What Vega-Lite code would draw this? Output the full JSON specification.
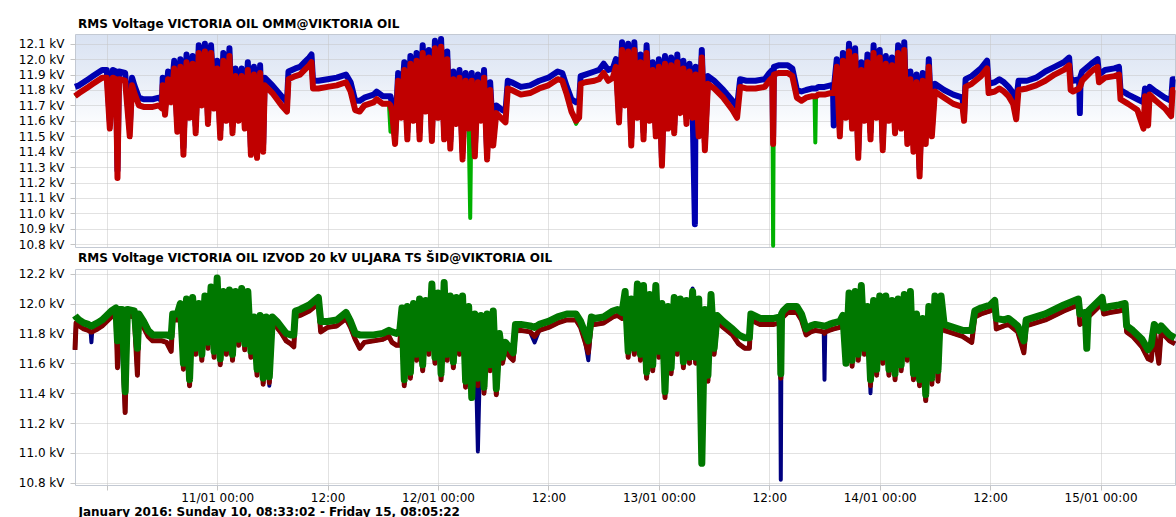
{
"$schema":"https://vega.github.io/schema/vega-lite/v6.json",
"padding":{"left":0,"right":0,"top":17,"bottom":0},
"background":"#ffffff",
"spacing":0,
"config":{
 "font":"DejaVu Sans",
 "view":{"stroke":"#c3c9d3","strokeWidth":1},
 "axis":{"labelFont":"DejaVu Sans","labelFontSize":12,"labelColor":"#000000","gridColor":"#c4c4c4","gridDash":[1,1],"gridWidth":1,"tickColor":"#c4c4c4","domain":false},
 "title":{"font":"DejaVu Sans","fontSize":12,"fontWeight":"bold","color":"#000000","anchor":"start","frame":"group","offset":3,"dx":3}
},
"datasets":{
"top":[
{"t":"2016-01-10T08:33:02","g":11.76,"b":11.82,"r":11.76},
{"t":"2016-01-10T09:00","g":11.78,"b":11.83,"r":11.78},
{"t":"2016-01-10T09:30","g":11.80,"b":11.85,"r":11.80},
{"t":"2016-01-10T10:00","g":11.82,"b":11.87,"r":11.82},
{"t":"2016-01-10T10:30","g":11.84,"b":11.89,"r":11.84},
{"t":"2016-01-10T11:00","g":11.86,"b":11.91,"r":11.86},
{"t":"2016-01-10T11:30","g":11.88,"b":11.93,"r":11.88},
{"t":"2016-01-10T12:00","g":11.88,"b":11.93,"r":11.88},
{"t":"2016-01-10T12:20","g":11.55,"b":11.60,"r":11.55},
{"t":"2016-01-10T12:40","g":11.88,"b":11.93,"r":11.88},
{"t":"2016-01-10T13:00","g":11.87,"b":11.92,"r":11.87},
{"t":"2016-01-10T13:10","g":11.23,"b":11.28,"r":11.23},
{"t":"2016-01-10T13:20","g":11.87,"b":11.92,"r":11.87},
{"t":"2016-01-10T14:00","g":11.86,"b":11.91,"r":11.86},
{"t":"2016-01-10T14:30","g":11.50,"b":11.55,"r":11.50},
{"t":"2016-01-10T14:45","g":11.83,"b":11.88,"r":11.83},
{"t":"2016-01-10T15:00","g":11.78,"b":11.83,"r":11.78},
{"t":"2016-01-10T15:30","g":11.70,"b":11.75,"r":11.70},
{"t":"2016-01-10T16:00","g":11.69,"b":11.74,"r":11.69},
{"t":"2016-01-10T17:00","g":11.69,"b":11.74,"r":11.69},
{"t":"2016-01-10T17:40","g":11.70,"b":11.75,"r":11.70},
{"t":"2016-01-10T18:00","g":11.68,"b":11.73,"r":11.68},
{"t":"2016-01-10T18:05","g":11.83,"b":11.88,"r":11.83},
{"t":"2016-01-10T18:20","g":11.64,"b":11.69,"r":11.64},
{"t":"2016-01-10T18:40","g":11.87,"b":11.92,"r":11.87},
{"t":"2016-01-10T19:00","g":11.72,"b":11.77,"r":11.72},
{"t":"2016-01-10T19:20","g":11.94,"b":11.99,"r":11.94},
{"t":"2016-01-10T19:40","g":11.53,"b":11.58,"r":11.53},
{"t":"2016-01-10T20:00","g":11.95,"b":12.00,"r":11.95},
{"t":"2016-01-10T20:20","g":11.38,"b":11.43,"r":11.38},
{"t":"2016-01-10T20:40","g":11.98,"b":12.03,"r":11.98},
{"t":"2016-01-10T21:00","g":11.62,"b":11.67,"r":11.62},
{"t":"2016-01-10T21:20","g":11.97,"b":12.02,"r":11.97},
{"t":"2016-01-10T21:40","g":11.52,"b":11.57,"r":11.52},
{"t":"2016-01-10T22:00","g":12.04,"b":12.09,"r":12.04},
{"t":"2016-01-10T22:20","g":11.70,"b":11.75,"r":11.70},
{"t":"2016-01-10T22:40","g":12.05,"b":12.10,"r":12.05},
{"t":"2016-01-10T23:00","g":11.58,"b":11.63,"r":11.58},
{"t":"2016-01-10T23:20","g":12.04,"b":12.09,"r":12.04},
{"t":"2016-01-10T23:40","g":11.68,"b":11.73,"r":11.68},
{"t":"2016-01-11T00:00","g":11.94,"b":11.99,"r":11.94},
{"t":"2016-01-11T00:20","g":11.49,"b":11.54,"r":11.49},
{"t":"2016-01-11T00:40","g":11.99,"b":12.04,"r":11.99},
{"t":"2016-01-11T01:00","g":11.60,"b":11.65,"r":11.60},
{"t":"2016-01-11T01:20","g":12.02,"b":12.07,"r":12.02},
{"t":"2016-01-11T01:40","g":11.52,"b":11.57,"r":11.52},
{"t":"2016-01-11T02:00","g":11.89,"b":11.94,"r":11.89},
{"t":"2016-01-11T02:20","g":11.60,"b":11.65,"r":11.60},
{"t":"2016-01-11T02:40","g":11.89,"b":11.94,"r":11.89},
{"t":"2016-01-11T03:00","g":11.55,"b":11.60,"r":11.55},
{"t":"2016-01-11T03:20","g":11.93,"b":11.98,"r":11.93},
{"t":"2016-01-11T03:40","g":11.38,"b":11.43,"r":11.38},
{"t":"2016-01-11T04:00","g":11.90,"b":11.95,"r":11.90},
{"t":"2016-01-11T04:20","g":11.36,"b":11.41,"r":11.36},
{"t":"2016-01-11T04:40","g":11.91,"b":11.96,"r":11.91},
{"t":"2016-01-11T05:00","g":11.40,"b":11.45,"r":11.40},
{"t":"2016-01-11T05:10","g":11.83,"b":11.88,"r":11.83},
{"t":"2016-01-11T06:00","g":11.78,"b":11.83,"r":11.78},
{"t":"2016-01-11T07:00","g":11.70,"b":11.76,"r":11.70},
{"t":"2016-01-11T07:35","g":11.66,"b":11.72,"r":11.66},
{"t":"2016-01-11T07:45","g":11.87,"b":11.92,"r":11.87},
{"t":"2016-01-11T08:30","g":11.89,"b":11.94,"r":11.89},
{"t":"2016-01-11T09:00","g":11.90,"b":11.95,"r":11.90},
{"t":"2016-01-11T09:30","g":11.93,"b":11.98,"r":11.93},
{"t":"2016-01-11T10:00","g":11.96,"b":12.01,"r":11.96},
{"t":"2016-01-11T10:15","g":11.98,"b":12.03,"r":11.98},
{"t":"2016-01-11T10:25","g":11.81,"b":11.86,"r":11.81},
{"t":"2016-01-11T11:00","g":11.81,"b":11.86,"r":11.81},
{"t":"2016-01-11T12:00","g":11.82,"b":11.87,"r":11.82},
{"t":"2016-01-11T13:00","g":11.83,"b":11.88,"r":11.83},
{"t":"2016-01-11T14:00","g":11.85,"b":11.90,"r":11.85},
{"t":"2016-01-11T14:30","g":11.79,"b":11.85,"r":11.79},
{"t":"2016-01-11T15:00","g":11.67,"b":11.73,"r":11.67},
{"t":"2016-01-11T15:30","g":11.66,"b":11.73,"r":11.66},
{"t":"2016-01-11T16:00","g":11.70,"b":11.75,"r":11.70},
{"t":"2016-01-11T17:00","g":11.72,"b":11.77,"r":11.72},
{"t":"2016-01-11T17:20","g":11.74,"b":11.79,"r":11.74},
{"t":"2016-01-11T18:00","g":11.71,"b":11.76,"r":11.71},
{"t":"2016-01-11T18:40","g":11.71,"b":11.76,"r":11.71},
{"t":"2016-01-11T18:50","g":11.53,"b":11.76,"r":11.70},
{"t":"2016-01-11T19:00","g":11.66,"b":11.71,"r":11.66},
{"t":"2016-01-11T19:20","g":11.45,"b":11.50,"r":11.45},
{"t":"2016-01-11T19:40","g":11.86,"b":11.91,"r":11.86},
{"t":"2016-01-11T20:00","g":11.62,"b":11.67,"r":11.62},
{"t":"2016-01-11T20:20","g":11.93,"b":11.98,"r":11.93},
{"t":"2016-01-11T20:40","g":11.48,"b":11.53,"r":11.48},
{"t":"2016-01-11T21:00","g":11.97,"b":12.02,"r":11.97},
{"t":"2016-01-11T21:20","g":11.60,"b":11.65,"r":11.60},
{"t":"2016-01-11T21:40","g":11.99,"b":12.04,"r":11.99},
{"t":"2016-01-11T22:00","g":11.48,"b":11.53,"r":11.48},
{"t":"2016-01-11T22:20","g":12.04,"b":12.09,"r":12.04},
{"t":"2016-01-11T22:40","g":11.66,"b":11.71,"r":11.66},
{"t":"2016-01-11T23:00","g":12.01,"b":12.06,"r":12.01},
{"t":"2016-01-11T23:20","g":11.47,"b":11.52,"r":11.47},
{"t":"2016-01-11T23:40","g":12.07,"b":12.12,"r":12.07},
{"t":"2016-01-12T00:00","g":11.62,"b":11.67,"r":11.62},
{"t":"2016-01-12T00:20","g":12.08,"b":12.13,"r":12.08},
{"t":"2016-01-12T00:40","g":11.48,"b":11.53,"r":11.48},
{"t":"2016-01-12T01:00","g":12.00,"b":12.05,"r":12.00},
{"t":"2016-01-12T01:20","g":11.42,"b":11.47,"r":11.42},
{"t":"2016-01-12T01:40","g":11.87,"b":11.92,"r":11.87},
{"t":"2016-01-12T02:00","g":11.58,"b":11.63,"r":11.58},
{"t":"2016-01-12T02:20","g":11.88,"b":11.93,"r":11.88},
{"t":"2016-01-12T02:40","g":11.35,"b":11.40,"r":11.35},
{"t":"2016-01-12T03:00","g":11.86,"b":11.91,"r":11.86},
{"t":"2016-01-12T03:20","g":11.55,"b":11.60,"r":11.55},
{"t":"2016-01-12T03:30","g":10.97,"b":11.75,"r":11.70},
{"t":"2016-01-12T03:40","g":11.86,"b":11.91,"r":11.86},
{"t":"2016-01-12T04:00","g":11.37,"b":11.42,"r":11.37},
{"t":"2016-01-12T04:20","g":11.85,"b":11.90,"r":11.85},
{"t":"2016-01-12T04:40","g":11.60,"b":11.65,"r":11.60},
{"t":"2016-01-12T05:00","g":11.88,"b":11.93,"r":11.88},
{"t":"2016-01-12T05:20","g":11.35,"b":11.40,"r":11.35},
{"t":"2016-01-12T05:40","g":11.80,"b":11.85,"r":11.80},
{"t":"2016-01-12T06:00","g":11.44,"b":11.49,"r":11.44},
{"t":"2016-01-12T06:20","g":11.65,"b":11.70,"r":11.65},
{"t":"2016-01-12T07:00","g":11.61,"b":11.67,"r":11.61},
{"t":"2016-01-12T07:20","g":11.59,"b":11.66,"r":11.59},
{"t":"2016-01-12T07:35","g":11.81,"b":11.86,"r":11.81},
{"t":"2016-01-12T08:00","g":11.80,"b":11.85,"r":11.80},
{"t":"2016-01-12T09:00","g":11.77,"b":11.82,"r":11.77},
{"t":"2016-01-12T10:00","g":11.78,"b":11.83,"r":11.78},
{"t":"2016-01-12T11:00","g":11.81,"b":11.86,"r":11.81},
{"t":"2016-01-12T12:00","g":11.83,"b":11.88,"r":11.83},
{"t":"2016-01-12T13:00","g":11.87,"b":11.92,"r":11.87},
{"t":"2016-01-12T13:30","g":11.86,"b":11.91,"r":11.86},
{"t":"2016-01-12T14:00","g":11.77,"b":11.82,"r":11.77},
{"t":"2016-01-12T14:30","g":11.66,"b":11.74,"r":11.66},
{"t":"2016-01-12T15:00","g":11.58,"b":11.72,"r":11.60},
{"t":"2016-01-12T15:20","g":11.62,"b":11.73,"r":11.62},
{"t":"2016-01-12T15:30","g":11.84,"b":11.89,"r":11.84},
{"t":"2016-01-12T16:00","g":11.85,"b":11.90,"r":11.85},
{"t":"2016-01-12T17:00","g":11.86,"b":11.92,"r":11.86},
{"t":"2016-01-12T17:30","g":11.87,"b":11.93,"r":11.87},
{"t":"2016-01-12T18:00","g":11.91,"b":11.97,"r":11.91},
{"t":"2016-01-12T18:30","g":11.86,"b":11.93,"r":11.86},
{"t":"2016-01-12T19:00","g":11.88,"b":11.94,"r":11.88},
{"t":"2016-01-12T19:20","g":11.95,"b":12.00,"r":11.95},
{"t":"2016-01-12T19:40","g":11.59,"b":11.64,"r":11.59},
{"t":"2016-01-12T20:00","g":12.06,"b":12.11,"r":12.06},
{"t":"2016-01-12T20:20","g":11.70,"b":11.75,"r":11.70},
{"t":"2016-01-12T20:40","g":12.05,"b":12.10,"r":12.05},
{"t":"2016-01-12T21:00","g":11.44,"b":11.49,"r":11.44},
{"t":"2016-01-12T21:20","g":12.06,"b":12.11,"r":12.06},
{"t":"2016-01-12T21:40","g":11.62,"b":11.67,"r":11.62},
{"t":"2016-01-12T22:00","g":11.98,"b":12.03,"r":11.98},
{"t":"2016-01-12T22:20","g":11.48,"b":11.53,"r":11.48},
{"t":"2016-01-12T22:40","g":12.04,"b":12.09,"r":12.04},
{"t":"2016-01-12T23:00","g":11.60,"b":11.65,"r":11.60},
{"t":"2016-01-12T23:20","g":11.93,"b":11.98,"r":11.93},
{"t":"2016-01-12T23:40","g":11.50,"b":11.55,"r":11.50},
{"t":"2016-01-13T00:00","g":11.95,"b":12.00,"r":11.95},
{"t":"2016-01-13T00:20","g":11.31,"b":11.36,"r":11.31},
{"t":"2016-01-13T00:40","g":11.97,"b":12.02,"r":11.97},
{"t":"2016-01-13T01:00","g":11.55,"b":11.60,"r":11.55},
{"t":"2016-01-13T01:20","g":11.96,"b":12.01,"r":11.96},
{"t":"2016-01-13T01:40","g":11.52,"b":11.57,"r":11.52},
{"t":"2016-01-13T02:00","g":11.98,"b":12.03,"r":11.98},
{"t":"2016-01-13T02:20","g":11.65,"b":11.70,"r":11.65},
{"t":"2016-01-13T02:40","g":11.94,"b":11.99,"r":11.94},
{"t":"2016-01-13T03:00","g":11.58,"b":11.63,"r":11.58},
{"t":"2016-01-13T03:20","g":11.92,"b":11.97,"r":11.92},
{"t":"2016-01-13T03:40","g":11.62,"b":11.67,"r":11.62},
{"t":"2016-01-13T03:55","g":11.80,"b":10.93,"r":11.80},
{"t":"2016-01-13T04:00","g":11.90,"b":11.95,"r":11.90},
{"t":"2016-01-13T04:20","g":11.50,"b":11.55,"r":11.50},
{"t":"2016-01-13T04:40","g":12.01,"b":12.06,"r":12.01},
{"t":"2016-01-13T05:00","g":11.41,"b":11.46,"r":11.41},
{"t":"2016-01-13T05:20","g":11.84,"b":11.89,"r":11.84},
{"t":"2016-01-13T06:00","g":11.81,"b":11.86,"r":11.81},
{"t":"2016-01-13T07:00","g":11.75,"b":11.80,"r":11.75},
{"t":"2016-01-13T08:00","g":11.67,"b":11.73,"r":11.67},
{"t":"2016-01-13T08:30","g":11.62,"b":11.69,"r":11.62},
{"t":"2016-01-13T08:50","g":11.82,"b":11.87,"r":11.82},
{"t":"2016-01-13T09:30","g":11.81,"b":11.86,"r":11.81},
{"t":"2016-01-13T10:30","g":11.81,"b":11.86,"r":11.81},
{"t":"2016-01-13T11:30","g":11.82,"b":11.87,"r":11.82},
{"t":"2016-01-13T12:00","g":11.86,"b":11.91,"r":11.86},
{"t":"2016-01-13T12:20","g":11.88,"b":11.93,"r":11.88},
{"t":"2016-01-13T12:25","g":10.79,"b":11.50,"r":11.45},
{"t":"2016-01-13T12:30","g":11.90,"b":11.95,"r":11.90},
{"t":"2016-01-13T13:00","g":11.91,"b":11.96,"r":11.91},
{"t":"2016-01-13T14:00","g":11.91,"b":11.96,"r":11.91},
{"t":"2016-01-13T14:30","g":11.89,"b":11.94,"r":11.89},
{"t":"2016-01-13T15:00","g":11.75,"b":11.80,"r":11.75},
{"t":"2016-01-13T15:30","g":11.73,"b":11.79,"r":11.73},
{"t":"2016-01-13T16:00","g":11.75,"b":11.80,"r":11.75},
{"t":"2016-01-13T16:40","g":11.76,"b":11.81,"r":11.76},
{"t":"2016-01-13T16:55","g":11.76,"b":11.81,"r":11.76},
{"t":"2016-01-13T17:00","g":11.46,"b":11.81,"r":11.76},
{"t":"2016-01-13T17:05","g":11.76,"b":11.81,"r":11.76},
{"t":"2016-01-13T17:20","g":11.77,"b":11.82,"r":11.77},
{"t":"2016-01-13T18:00","g":11.77,"b":11.82,"r":11.77},
{"t":"2016-01-13T18:40","g":11.78,"b":11.83,"r":11.78},
{"t":"2016-01-13T18:55","g":11.78,"b":11.83,"r":11.78},
{"t":"2016-01-13T19:00","g":11.78,"b":11.57,"r":11.78},
{"t":"2016-01-13T19:05","g":11.80,"b":11.85,"r":11.80},
{"t":"2016-01-13T19:20","g":11.95,"b":12.00,"r":11.95},
{"t":"2016-01-13T19:40","g":11.50,"b":11.55,"r":11.50},
{"t":"2016-01-13T20:00","g":11.99,"b":12.04,"r":11.99},
{"t":"2016-01-13T20:20","g":11.62,"b":11.67,"r":11.62},
{"t":"2016-01-13T20:40","g":12.05,"b":12.10,"r":12.05},
{"t":"2016-01-13T21:00","g":11.55,"b":11.60,"r":11.55},
{"t":"2016-01-13T21:20","g":12.02,"b":12.07,"r":12.02},
{"t":"2016-01-13T21:40","g":11.36,"b":11.41,"r":11.36},
{"t":"2016-01-13T22:00","g":11.93,"b":11.98,"r":11.93},
{"t":"2016-01-13T22:20","g":11.60,"b":11.65,"r":11.60},
{"t":"2016-01-13T22:40","g":11.98,"b":12.03,"r":11.98},
{"t":"2016-01-13T23:00","g":11.48,"b":11.53,"r":11.48},
{"t":"2016-01-13T23:20","g":12.04,"b":12.09,"r":12.04},
{"t":"2016-01-13T23:40","g":11.62,"b":11.67,"r":11.62},
{"t":"2016-01-14T00:00","g":12.01,"b":12.06,"r":12.01},
{"t":"2016-01-14T00:20","g":11.41,"b":11.46,"r":11.41},
{"t":"2016-01-14T00:40","g":11.97,"b":12.02,"r":11.97},
{"t":"2016-01-14T01:00","g":11.60,"b":11.65,"r":11.60},
{"t":"2016-01-14T01:20","g":11.96,"b":12.01,"r":11.96},
{"t":"2016-01-14T01:40","g":11.52,"b":11.57,"r":11.52},
{"t":"2016-01-14T02:00","g":12.04,"b":12.09,"r":12.04},
{"t":"2016-01-14T02:20","g":11.55,"b":11.60,"r":11.55},
{"t":"2016-01-14T02:40","g":12.06,"b":12.11,"r":12.06},
{"t":"2016-01-14T03:00","g":11.45,"b":11.50,"r":11.45},
{"t":"2016-01-14T03:20","g":11.87,"b":11.92,"r":11.87},
{"t":"2016-01-14T03:40","g":11.40,"b":11.45,"r":11.40},
{"t":"2016-01-14T04:00","g":11.85,"b":11.90,"r":11.85},
{"t":"2016-01-14T04:20","g":11.24,"b":11.29,"r":11.24},
{"t":"2016-01-14T04:40","g":11.86,"b":11.91,"r":11.86},
{"t":"2016-01-14T05:00","g":11.45,"b":11.50,"r":11.45},
{"t":"2016-01-14T05:20","g":11.95,"b":12.00,"r":11.95},
{"t":"2016-01-14T05:40","g":11.50,"b":11.55,"r":11.50},
{"t":"2016-01-14T06:00","g":11.79,"b":11.84,"r":11.79},
{"t":"2016-01-14T07:00","g":11.75,"b":11.80,"r":11.75},
{"t":"2016-01-14T08:00","g":11.71,"b":11.77,"r":11.71},
{"t":"2016-01-14T09:00","g":11.69,"b":11.75,"r":11.69},
{"t":"2016-01-14T09:10","g":11.60,"b":11.64,"r":11.60},
{"t":"2016-01-14T09:20","g":11.82,"b":11.87,"r":11.82},
{"t":"2016-01-14T10:00","g":11.84,"b":11.89,"r":11.84},
{"t":"2016-01-14T11:00","g":11.89,"b":11.94,"r":11.89},
{"t":"2016-01-14T11:40","g":11.94,"b":11.99,"r":11.94},
{"t":"2016-01-14T11:50","g":11.78,"b":11.84,"r":11.78},
{"t":"2016-01-14T12:30","g":11.79,"b":11.85,"r":11.79},
{"t":"2016-01-14T13:00","g":11.81,"b":11.87,"r":11.81},
{"t":"2016-01-14T13:30","g":11.79,"b":11.85,"r":11.79},
{"t":"2016-01-14T14:00","g":11.76,"b":11.82,"r":11.76},
{"t":"2016-01-14T14:30","g":11.71,"b":11.78,"r":11.71},
{"t":"2016-01-14T14:50","g":11.61,"b":11.72,"r":11.61},
{"t":"2016-01-14T15:05","g":11.80,"b":11.86,"r":11.80},
{"t":"2016-01-14T16:00","g":11.81,"b":11.86,"r":11.81},
{"t":"2016-01-14T17:00","g":11.83,"b":11.88,"r":11.83},
{"t":"2016-01-14T18:00","g":11.86,"b":11.92,"r":11.86},
{"t":"2016-01-14T19:00","g":11.90,"b":11.95,"r":11.90},
{"t":"2016-01-14T20:00","g":11.93,"b":11.98,"r":11.93},
{"t":"2016-01-14T20:35","g":11.96,"b":12.01,"r":11.96},
{"t":"2016-01-14T20:45","g":11.80,"b":11.88,"r":11.80},
{"t":"2016-01-14T21:00","g":11.79,"b":11.86,"r":11.79},
{"t":"2016-01-14T21:40","g":11.81,"b":11.87,"r":11.81},
{"t":"2016-01-14T21:45","g":11.82,"b":11.65,"r":11.82},
{"t":"2016-01-14T21:50","g":11.83,"b":11.89,"r":11.83},
{"t":"2016-01-14T22:00","g":11.86,"b":11.92,"r":11.86},
{"t":"2016-01-14T23:00","g":11.92,"b":11.97,"r":11.92},
{"t":"2016-01-14T23:40","g":11.95,"b":12.00,"r":11.95},
{"t":"2016-01-14T23:50","g":11.85,"b":11.90,"r":11.85},
{"t":"2016-01-15T00:30","g":11.88,"b":11.93,"r":11.88},
{"t":"2016-01-15T01:30","g":11.89,"b":11.94,"r":11.89},
{"t":"2016-01-15T02:00","g":11.90,"b":11.95,"r":11.90},
{"t":"2016-01-15T02:10","g":11.74,"b":11.80,"r":11.74},
{"t":"2016-01-15T03:00","g":11.71,"b":11.77,"r":11.71},
{"t":"2016-01-15T04:00","g":11.67,"b":11.74,"r":11.67},
{"t":"2016-01-15T04:40","g":11.55,"b":11.72,"r":11.55},
{"t":"2016-01-15T04:50","g":11.76,"b":11.81,"r":11.76},
{"t":"2016-01-15T05:10","g":11.57,"b":11.79,"r":11.57},
{"t":"2016-01-15T05:20","g":11.77,"b":11.82,"r":11.77},
{"t":"2016-01-15T06:00","g":11.73,"b":11.79,"r":11.73},
{"t":"2016-01-15T07:00","g":11.68,"b":11.75,"r":11.68},
{"t":"2016-01-15T07:40","g":11.63,"b":11.73,"r":11.63},
{"t":"2016-01-15T07:50","g":11.80,"b":11.87,"r":11.80},
{"t":"2016-01-15T08:05:22","g":11.80,"b":11.87,"r":11.80}
],
"bottom":[
{"t":"2016-01-10T08:33:02","n":11.69,"r":11.69,"g":11.92},
{"t":"2016-01-10T08:40","n":11.87,"r":11.87,"g":11.91},
{"t":"2016-01-10T09:00","n":11.85,"r":11.85,"g":11.89},
{"t":"2016-01-10T09:30","n":11.83,"r":11.83,"g":11.87},
{"t":"2016-01-10T10:00","n":11.82,"r":11.82,"g":11.86},
{"t":"2016-01-10T10:15","n":11.81,"r":11.81,"g":11.85},
{"t":"2016-01-10T10:20","n":11.74,"r":11.81,"g":11.85},
{"t":"2016-01-10T10:25","n":11.81,"r":11.81,"g":11.85},
{"t":"2016-01-10T10:40","n":11.82,"r":11.82,"g":11.86},
{"t":"2016-01-10T11:00","n":11.83,"r":11.83,"g":11.87},
{"t":"2016-01-10T11:30","n":11.85,"r":11.85,"g":11.89},
{"t":"2016-01-10T12:00","n":11.88,"r":11.88,"g":11.92},
{"t":"2016-01-10T12:30","n":11.91,"r":11.91,"g":11.95},
{"t":"2016-01-10T13:00","n":11.93,"r":11.93,"g":11.97},
{"t":"2016-01-10T13:10","n":11.57,"r":11.57,"g":11.75},
{"t":"2016-01-10T13:20","n":11.92,"r":11.92,"g":11.96},
{"t":"2016-01-10T13:40","n":11.69,"r":11.92,"g":11.96},
{"t":"2016-01-10T14:00","n":11.27,"r":11.27,"g":11.41},
{"t":"2016-01-10T14:15","n":11.92,"r":11.92,"g":11.96},
{"t":"2016-01-10T15:00","n":11.91,"r":11.91,"g":11.95},
{"t":"2016-01-10T15:20","n":11.52,"r":11.52,"g":11.70},
{"t":"2016-01-10T15:30","n":11.89,"r":11.89,"g":11.93},
{"t":"2016-01-10T16:00","n":11.84,"r":11.84,"g":11.88},
{"t":"2016-01-10T16:30","n":11.78,"r":11.78,"g":11.82},
{"t":"2016-01-10T17:00","n":11.75,"r":11.75,"g":11.79},
{"t":"2016-01-10T18:00","n":11.75,"r":11.75,"g":11.79},
{"t":"2016-01-10T18:30","n":11.74,"r":11.74,"g":11.79},
{"t":"2016-01-10T19:00","n":11.68,"r":11.68,"g":11.78},
{"t":"2016-01-10T19:10","n":11.89,"r":11.89,"g":11.93},
{"t":"2016-01-10T19:40","n":11.89,"r":11.89,"g":11.93},
{"t":"2016-01-10T20:00","n":11.96,"r":11.96,"g":12.00},
{"t":"2016-01-10T20:20","n":11.56,"r":11.56,"g":11.60},
{"t":"2016-01-10T20:40","n":11.99,"r":11.99,"g":12.03},
{"t":"2016-01-10T21:00","n":11.45,"r":11.45,"g":11.49},
{"t":"2016-01-10T21:20","n":12.00,"r":12.00,"g":12.04},
{"t":"2016-01-10T21:40","n":11.66,"r":11.66,"g":11.70},
{"t":"2016-01-10T22:00","n":11.96,"r":11.96,"g":12.00},
{"t":"2016-01-10T22:20","n":11.62,"r":11.62,"g":11.66},
{"t":"2016-01-10T22:40","n":12.01,"r":12.01,"g":12.05},
{"t":"2016-01-10T23:00","n":11.70,"r":11.70,"g":11.74},
{"t":"2016-01-10T23:20","n":12.07,"r":12.07,"g":12.11},
{"t":"2016-01-10T23:40","n":11.64,"r":11.64,"g":11.68},
{"t":"2016-01-11T00:00","n":12.13,"r":12.13,"g":12.17},
{"t":"2016-01-11T00:20","n":11.59,"r":11.59,"g":11.63},
{"t":"2016-01-11T00:40","n":12.04,"r":12.04,"g":12.08},
{"t":"2016-01-11T01:00","n":11.66,"r":11.66,"g":11.70},
{"t":"2016-01-11T01:20","n":12.05,"r":12.05,"g":12.09},
{"t":"2016-01-11T01:40","n":11.62,"r":11.62,"g":11.66},
{"t":"2016-01-11T02:00","n":12.04,"r":12.04,"g":12.08},
{"t":"2016-01-11T02:20","n":11.72,"r":11.72,"g":11.76},
{"t":"2016-01-11T02:40","n":12.06,"r":12.06,"g":12.10},
{"t":"2016-01-11T03:00","n":11.69,"r":11.69,"g":11.73},
{"t":"2016-01-11T03:20","n":12.04,"r":12.04,"g":12.08},
{"t":"2016-01-11T03:40","n":11.64,"r":11.64,"g":11.68},
{"t":"2016-01-11T04:00","n":11.87,"r":11.87,"g":11.91},
{"t":"2016-01-11T04:20","n":11.52,"r":11.52,"g":11.56},
{"t":"2016-01-11T04:40","n":11.88,"r":11.88,"g":11.92},
{"t":"2016-01-11T05:00","n":11.46,"r":11.46,"g":11.50},
{"t":"2016-01-11T05:20","n":11.87,"r":11.87,"g":11.91},
{"t":"2016-01-11T05:40","n":11.45,"r":11.47,"g":11.51},
{"t":"2016-01-11T06:00","n":11.87,"r":11.87,"g":11.91},
{"t":"2016-01-11T06:30","n":11.84,"r":11.84,"g":11.88},
{"t":"2016-01-11T07:00","n":11.80,"r":11.80,"g":11.84},
{"t":"2016-01-11T07:30","n":11.75,"r":11.75,"g":11.80},
{"t":"2016-01-11T08:00","n":11.73,"r":11.73,"g":11.79},
{"t":"2016-01-11T08:20","n":11.71,"r":11.71,"g":11.79},
{"t":"2016-01-11T08:30","n":11.91,"r":11.91,"g":11.95},
{"t":"2016-01-11T09:00","n":11.92,"r":11.92,"g":11.96},
{"t":"2016-01-11T10:00","n":11.95,"r":11.95,"g":11.99},
{"t":"2016-01-11T11:00","n":12.00,"r":12.00,"g":12.04},
{"t":"2016-01-11T11:15","n":11.81,"r":11.81,"g":11.88},
{"t":"2016-01-11T12:00","n":11.84,"r":11.84,"g":11.88},
{"t":"2016-01-11T13:00","n":11.85,"r":11.85,"g":11.89},
{"t":"2016-01-11T14:00","n":11.90,"r":11.90,"g":11.94},
{"t":"2016-01-11T14:30","n":11.84,"r":11.84,"g":11.88},
{"t":"2016-01-11T15:00","n":11.76,"r":11.76,"g":11.80},
{"t":"2016-01-11T15:30","n":11.70,"r":11.70,"g":11.79},
{"t":"2016-01-11T16:00","n":11.74,"r":11.74,"g":11.79},
{"t":"2016-01-11T17:00","n":11.75,"r":11.75,"g":11.79},
{"t":"2016-01-11T18:00","n":11.76,"r":11.76,"g":11.80},
{"t":"2016-01-11T18:40","n":11.78,"r":11.78,"g":11.82},
{"t":"2016-01-11T19:00","n":11.74,"r":11.74,"g":11.81},
{"t":"2016-01-11T19:30","n":11.72,"r":11.72,"g":11.80},
{"t":"2016-01-11T19:50","n":11.72,"r":11.72,"g":11.81},
{"t":"2016-01-11T20:05","n":11.93,"r":11.93,"g":11.97},
{"t":"2016-01-11T20:20","n":11.45,"r":11.45,"g":11.49},
{"t":"2016-01-11T20:40","n":11.94,"r":11.94,"g":11.98},
{"t":"2016-01-11T21:00","n":11.50,"r":11.50,"g":11.54},
{"t":"2016-01-11T21:20","n":11.96,"r":11.96,"g":12.00},
{"t":"2016-01-11T21:40","n":11.62,"r":11.62,"g":11.66},
{"t":"2016-01-11T22:00","n":11.99,"r":11.99,"g":12.03},
{"t":"2016-01-11T22:20","n":11.55,"r":11.55,"g":11.59},
{"t":"2016-01-11T22:40","n":11.98,"r":11.98,"g":12.02},
{"t":"2016-01-11T23:00","n":11.66,"r":11.66,"g":11.70},
{"t":"2016-01-11T23:20","n":12.09,"r":12.09,"g":12.13},
{"t":"2016-01-11T23:40","n":11.60,"r":11.60,"g":11.64},
{"t":"2016-01-12T00:00","n":12.03,"r":12.03,"g":12.07},
{"t":"2016-01-12T00:20","n":11.49,"r":11.49,"g":11.53},
{"t":"2016-01-12T00:40","n":12.10,"r":12.10,"g":12.14},
{"t":"2016-01-12T01:00","n":11.62,"r":11.62,"g":11.66},
{"t":"2016-01-12T01:20","n":12.01,"r":12.01,"g":12.05},
{"t":"2016-01-12T01:40","n":11.57,"r":11.57,"g":11.61},
{"t":"2016-01-12T02:00","n":12.00,"r":12.00,"g":12.04},
{"t":"2016-01-12T02:20","n":11.66,"r":11.66,"g":11.70},
{"t":"2016-01-12T02:40","n":12.01,"r":12.01,"g":12.05},
{"t":"2016-01-12T03:00","n":11.44,"r":11.44,"g":11.48},
{"t":"2016-01-12T03:20","n":11.94,"r":11.94,"g":11.98},
{"t":"2016-01-12T03:40","n":11.40,"r":11.40,"g":11.37},
{"t":"2016-01-12T04:00","n":11.89,"r":11.89,"g":11.93},
{"t":"2016-01-12T04:20","n":11.01,"r":11.45,"g":11.50},
{"t":"2016-01-12T04:40","n":11.88,"r":11.88,"g":11.92},
{"t":"2016-01-12T05:00","n":11.40,"r":11.40,"g":11.44},
{"t":"2016-01-12T05:20","n":11.89,"r":11.89,"g":11.93},
{"t":"2016-01-12T05:40","n":11.55,"r":11.55,"g":11.59},
{"t":"2016-01-12T06:00","n":11.91,"r":11.91,"g":11.95},
{"t":"2016-01-12T06:20","n":11.39,"r":11.39,"g":11.43},
{"t":"2016-01-12T06:40","n":11.76,"r":11.76,"g":11.80},
{"t":"2016-01-12T07:00","n":11.60,"r":11.60,"g":11.64},
{"t":"2016-01-12T07:20","n":11.69,"r":11.69,"g":11.74},
{"t":"2016-01-12T07:50","n":11.64,"r":11.64,"g":11.70},
{"t":"2016-01-12T08:10","n":11.62,"r":11.62,"g":11.67},
{"t":"2016-01-12T08:25","n":11.82,"r":11.82,"g":11.86},
{"t":"2016-01-12T09:00","n":11.82,"r":11.82,"g":11.86},
{"t":"2016-01-12T10:00","n":11.81,"r":11.81,"g":11.85},
{"t":"2016-01-12T10:30","n":11.74,"r":11.78,"g":11.84},
{"t":"2016-01-12T11:00","n":11.82,"r":11.82,"g":11.86},
{"t":"2016-01-12T12:00","n":11.84,"r":11.84,"g":11.88},
{"t":"2016-01-12T13:00","n":11.87,"r":11.87,"g":11.91},
{"t":"2016-01-12T14:00","n":11.89,"r":11.89,"g":11.93},
{"t":"2016-01-12T15:00","n":11.89,"r":11.89,"g":11.93},
{"t":"2016-01-12T15:30","n":11.84,"r":11.84,"g":11.88},
{"t":"2016-01-12T16:00","n":11.74,"r":11.74,"g":11.80},
{"t":"2016-01-12T16:20","n":11.62,"r":11.67,"g":11.75},
{"t":"2016-01-12T16:40","n":11.87,"r":11.87,"g":11.91},
{"t":"2016-01-12T17:00","n":11.86,"r":11.86,"g":11.90},
{"t":"2016-01-12T18:00","n":11.87,"r":11.87,"g":11.91},
{"t":"2016-01-12T19:00","n":11.91,"r":11.91,"g":11.95},
{"t":"2016-01-12T19:30","n":11.92,"r":11.92,"g":11.96},
{"t":"2016-01-12T20:00","n":11.90,"r":11.90,"g":11.94},
{"t":"2016-01-12T20:20","n":12.04,"r":12.04,"g":12.08},
{"t":"2016-01-12T20:40","n":11.64,"r":11.64,"g":11.68},
{"t":"2016-01-12T21:00","n":11.99,"r":11.99,"g":12.03},
{"t":"2016-01-12T21:20","n":11.66,"r":11.66,"g":11.70},
{"t":"2016-01-12T21:40","n":12.09,"r":12.09,"g":12.13},
{"t":"2016-01-12T22:00","n":11.62,"r":11.62,"g":11.66},
{"t":"2016-01-12T22:20","n":12.08,"r":12.08,"g":12.12},
{"t":"2016-01-12T22:40","n":11.50,"r":11.50,"g":11.54},
{"t":"2016-01-12T23:00","n":12.02,"r":12.02,"g":12.06},
{"t":"2016-01-12T23:20","n":11.55,"r":11.55,"g":11.59},
{"t":"2016-01-12T23:40","n":12.08,"r":12.08,"g":12.12},
{"t":"2016-01-13T00:00","n":11.64,"r":11.64,"g":11.68},
{"t":"2016-01-13T00:20","n":11.96,"r":11.96,"g":12.00},
{"t":"2016-01-13T00:40","n":11.37,"r":11.37,"g":11.41},
{"t":"2016-01-13T01:00","n":11.94,"r":11.94,"g":11.98},
{"t":"2016-01-13T01:20","n":11.53,"r":11.53,"g":11.57},
{"t":"2016-01-13T01:40","n":12.00,"r":12.00,"g":12.04},
{"t":"2016-01-13T02:00","n":11.66,"r":11.66,"g":11.70},
{"t":"2016-01-13T02:20","n":11.99,"r":11.99,"g":12.03},
{"t":"2016-01-13T02:40","n":11.57,"r":11.57,"g":11.61},
{"t":"2016-01-13T03:00","n":11.98,"r":11.98,"g":12.02},
{"t":"2016-01-13T03:20","n":11.60,"r":11.60,"g":11.64},
{"t":"2016-01-13T03:40","n":12.10,"r":12.04,"g":12.08},
{"t":"2016-01-13T04:00","n":11.60,"r":11.60,"g":11.64},
{"t":"2016-01-13T04:20","n":11.99,"r":11.99,"g":12.03},
{"t":"2016-01-13T04:40","n":11.62,"r":11.62,"g":10.93},
{"t":"2016-01-13T05:00","n":11.92,"r":11.92,"g":11.96},
{"t":"2016-01-13T05:20","n":11.48,"r":11.48,"g":11.52},
{"t":"2016-01-13T05:40","n":12.02,"r":12.02,"g":12.06},
{"t":"2016-01-13T06:00","n":11.66,"r":11.66,"g":11.70},
{"t":"2016-01-13T06:20","n":11.88,"r":11.88,"g":11.92},
{"t":"2016-01-13T07:00","n":11.84,"r":11.84,"g":11.88},
{"t":"2016-01-13T08:00","n":11.79,"r":11.79,"g":11.83},
{"t":"2016-01-13T08:40","n":11.73,"r":11.73,"g":11.79},
{"t":"2016-01-13T09:20","n":11.70,"r":11.70,"g":11.77},
{"t":"2016-01-13T09:50","n":11.70,"r":11.70,"g":11.77},
{"t":"2016-01-13T10:00","n":11.89,"r":11.89,"g":11.93},
{"t":"2016-01-13T11:00","n":11.86,"r":11.86,"g":11.90},
{"t":"2016-01-13T12:00","n":11.86,"r":11.86,"g":11.90},
{"t":"2016-01-13T12:30","n":11.86,"r":11.86,"g":11.90},
{"t":"2016-01-13T13:10","n":11.87,"r":11.87,"g":11.91},
{"t":"2016-01-13T13:15","n":10.82,"r":11.50,"g":11.53},
{"t":"2016-01-13T13:20","n":11.89,"r":11.89,"g":11.93},
{"t":"2016-01-13T13:30","n":11.91,"r":11.91,"g":11.95},
{"t":"2016-01-13T14:00","n":11.94,"r":11.94,"g":11.98},
{"t":"2016-01-13T15:00","n":11.94,"r":11.94,"g":11.98},
{"t":"2016-01-13T15:30","n":11.89,"r":11.89,"g":11.93},
{"t":"2016-01-13T16:00","n":11.79,"r":11.79,"g":11.83},
{"t":"2016-01-13T16:30","n":11.81,"r":11.81,"g":11.85},
{"t":"2016-01-13T17:00","n":11.82,"r":11.82,"g":11.86},
{"t":"2016-01-13T17:55","n":11.81,"r":11.81,"g":11.85},
{"t":"2016-01-13T18:00","n":11.49,"r":11.80,"g":11.85},
{"t":"2016-01-13T18:05","n":11.81,"r":11.81,"g":11.85},
{"t":"2016-01-13T18:30","n":11.82,"r":11.82,"g":11.86},
{"t":"2016-01-13T19:00","n":11.83,"r":11.83,"g":11.87},
{"t":"2016-01-13T19:40","n":11.84,"r":11.84,"g":11.88},
{"t":"2016-01-13T20:00","n":11.88,"r":11.88,"g":11.92},
{"t":"2016-01-13T20:20","n":11.63,"r":11.63,"g":11.60},
{"t":"2016-01-13T20:40","n":12.03,"r":12.03,"g":12.07},
{"t":"2016-01-13T21:00","n":11.58,"r":11.58,"g":11.62},
{"t":"2016-01-13T21:20","n":12.04,"r":12.04,"g":12.08},
{"t":"2016-01-13T21:40","n":11.62,"r":11.62,"g":11.66},
{"t":"2016-01-13T22:00","n":12.08,"r":12.08,"g":12.12},
{"t":"2016-01-13T22:20","n":11.66,"r":11.66,"g":11.70},
{"t":"2016-01-13T22:40","n":11.94,"r":11.94,"g":11.98},
{"t":"2016-01-13T23:00","n":11.40,"r":11.45,"g":11.49},
{"t":"2016-01-13T23:20","n":11.98,"r":11.98,"g":12.02},
{"t":"2016-01-13T23:40","n":11.52,"r":11.52,"g":11.56},
{"t":"2016-01-14T00:00","n":12.01,"r":12.01,"g":12.05},
{"t":"2016-01-14T00:20","n":11.60,"r":11.60,"g":11.64},
{"t":"2016-01-14T00:40","n":12.01,"r":12.01,"g":12.05},
{"t":"2016-01-14T01:00","n":11.52,"r":11.52,"g":11.56},
{"t":"2016-01-14T01:20","n":11.98,"r":11.98,"g":12.02},
{"t":"2016-01-14T01:40","n":11.49,"r":11.49,"g":11.53},
{"t":"2016-01-14T02:00","n":11.99,"r":11.99,"g":12.03},
{"t":"2016-01-14T02:20","n":11.55,"r":11.55,"g":11.59},
{"t":"2016-01-14T02:40","n":12.02,"r":12.02,"g":12.06},
{"t":"2016-01-14T03:00","n":11.62,"r":11.62,"g":11.66},
{"t":"2016-01-14T03:20","n":12.04,"r":12.04,"g":12.08},
{"t":"2016-01-14T03:40","n":11.49,"r":11.49,"g":11.53},
{"t":"2016-01-14T04:00","n":11.89,"r":11.89,"g":11.93},
{"t":"2016-01-14T04:20","n":11.45,"r":11.45,"g":11.49},
{"t":"2016-01-14T04:40","n":11.86,"r":11.86,"g":11.90},
{"t":"2016-01-14T05:00","n":11.35,"r":11.35,"g":11.39},
{"t":"2016-01-14T05:20","n":11.94,"r":11.94,"g":11.98},
{"t":"2016-01-14T05:40","n":11.46,"r":11.46,"g":11.50},
{"t":"2016-01-14T06:00","n":12.01,"r":12.01,"g":12.05},
{"t":"2016-01-14T06:20","n":11.48,"r":11.48,"g":11.55},
{"t":"2016-01-14T06:40","n":12.01,"r":12.01,"g":12.05},
{"t":"2016-01-14T07:00","n":11.82,"r":11.82,"g":11.86},
{"t":"2016-01-14T08:00","n":11.80,"r":11.80,"g":11.84},
{"t":"2016-01-14T09:00","n":11.78,"r":11.78,"g":11.82},
{"t":"2016-01-14T10:00","n":11.74,"r":11.74,"g":11.82},
{"t":"2016-01-14T10:20","n":11.91,"r":11.91,"g":11.95},
{"t":"2016-01-14T11:00","n":11.93,"r":11.93,"g":11.97},
{"t":"2016-01-14T12:00","n":11.95,"r":11.95,"g":11.99},
{"t":"2016-01-14T12:30","n":11.98,"r":11.98,"g":12.02},
{"t":"2016-01-14T12:40","n":11.83,"r":11.83,"g":11.90},
{"t":"2016-01-14T13:30","n":11.85,"r":11.85,"g":11.89},
{"t":"2016-01-14T14:00","n":11.86,"r":11.86,"g":11.90},
{"t":"2016-01-14T15:00","n":11.81,"r":11.81,"g":11.85},
{"t":"2016-01-14T15:40","n":11.67,"r":11.67,"g":11.75},
{"t":"2016-01-14T15:55","n":11.85,"r":11.85,"g":11.89},
{"t":"2016-01-14T18:00","n":11.89,"r":11.89,"g":11.93},
{"t":"2016-01-14T20:00","n":11.95,"r":11.95,"g":11.99},
{"t":"2016-01-14T21:35","n":11.99,"r":11.99,"g":12.03},
{"t":"2016-01-14T21:45","n":11.86,"r":11.86,"g":11.93},
{"t":"2016-01-14T22:20","n":11.88,"r":11.88,"g":11.94},
{"t":"2016-01-14T22:30","n":11.86,"r":11.86,"g":11.70},
{"t":"2016-01-14T22:40","n":11.91,"r":11.91,"g":11.95},
{"t":"2016-01-14T23:30","n":11.96,"r":11.96,"g":12.00},
{"t":"2016-01-15T00:10","n":12.00,"r":12.00,"g":12.04},
{"t":"2016-01-15T00:20","n":11.93,"r":11.93,"g":11.97},
{"t":"2016-01-15T01:00","n":11.94,"r":11.94,"g":11.98},
{"t":"2016-01-15T02:00","n":11.95,"r":11.95,"g":11.99},
{"t":"2016-01-15T02:40","n":11.96,"r":11.96,"g":12.00},
{"t":"2016-01-15T02:50","n":11.81,"r":11.81,"g":11.85},
{"t":"2016-01-15T03:30","n":11.78,"r":11.78,"g":11.82},
{"t":"2016-01-15T04:30","n":11.71,"r":11.71,"g":11.76},
{"t":"2016-01-15T05:10","n":11.63,"r":11.63,"g":11.69},
{"t":"2016-01-15T05:30","n":11.62,"r":11.62,"g":11.72},
{"t":"2016-01-15T05:50","n":11.82,"r":11.82,"g":11.86},
{"t":"2016-01-15T06:20","n":11.60,"r":11.60,"g":11.82},
{"t":"2016-01-15T06:35","n":11.81,"r":11.81,"g":11.85},
{"t":"2016-01-15T07:30","n":11.75,"r":11.75,"g":11.79},
{"t":"2016-01-15T08:05:22","n":11.73,"r":11.73,"g":11.77}
]
},
"vconcat":[
{
 "title":"RMS Voltage VICTORIA OIL OMM@VIKTORIA OIL",
 "width":1100,"height":213,
 "data":{"name":"top"},
 "view":{"fill":{"gradient":"linear","x1":0,"y1":0,"x2":0,"y2":1,"stops":[{"offset":0,"color":"#d9e2f2"},{"offset":0.2,"color":"#e7edf7"},{"offset":0.45,"color":"#ffffff"},{"offset":1,"color":"#ffffff"}]},"stroke":"#c3c9d3"},
 "encoding":{"x":{"field":"t","type":"temporal","axis":{"title":null,"labels":false,"ticks":false,"domain":false,"grid":true,"tickCount":10,"minExtent":0,"maxExtent":0}}},
 "layer":[
  {"mark":{"type":"line","color":"#00b000","strokeWidth":4,"strokeJoin":"round"},
   "encoding":{"y":{"field":"g","type":"quantitative","scale":{"domain":[10.782,12.163],"nice":false,"zero":false},"axis":{"title":null,"values":[10.8,10.9,11.0,11.1,11.2,11.3,11.4,11.5,11.6,11.7,11.8,11.9,12.0,12.1],"labelExpr":"format(datum.value,'.1f') + ' kV'","tickSize":5,"labelPadding":6,"minExtent":74,"maxExtent":74,"grid":true}}}},
  {"mark":{"type":"line","color":"#0000b0","strokeWidth":6,"strokeJoin":"round"},
   "encoding":{"y":{"field":"b","type":"quantitative","scale":{"domain":[10.782,12.163],"nice":false,"zero":false},"axis":{"title":null,"values":[10.8,10.9,11.0,11.1,11.2,11.3,11.4,11.5,11.6,11.7,11.8,11.9,12.0,12.1],"labelExpr":"format(datum.value,'.1f') + ' kV'","tickSize":5,"labelPadding":6,"minExtent":74,"maxExtent":74,"grid":true}}}},
  {"mark":{"type":"line","color":"#c00000","strokeWidth":6,"strokeJoin":"round"},
   "encoding":{"y":{"field":"r","type":"quantitative","scale":{"domain":[10.782,12.163],"nice":false,"zero":false},"axis":{"title":null,"values":[10.8,10.9,11.0,11.1,11.2,11.3,11.4,11.5,11.6,11.7,11.8,11.9,12.0,12.1],"labelExpr":"format(datum.value,'.1f') + ' kV'","tickSize":5,"labelPadding":6,"minExtent":74,"maxExtent":74,"grid":true}}}}
 ]
},
{
 "title":"RMS Voltage VICTORIA OIL IZVOD 20 kV ULJARA TS ŠID@VIKTORIA OIL",
 "width":1100,"height":216,
 "data":{"name":"bottom"},
 "view":{"fill":"#ffffff","stroke":"#c3c9d3"},
 "encoding":{"x":{"field":"t","type":"temporal","axis":{"title":"January 2016: Sunday 10, 08:33:02 - Friday 15, 08:05:22","titleFont":"DejaVu Sans","titleFontSize":12,"titleFontWeight":"bold","titleColor":"#000000","titleAnchor":"start","titleAlign":"left","titleBaseline":"alphabetic","titleX":3,"titleY":30,"tickCount":10,"tickSize":5,"labelPadding":2,"labelFlush":false,"labelOverlap":false,"grid":true,"labelExpr":"datum.index == 0 ? '' : (hours(datum.value) == 0 ? timeFormat(datum.value, '%d/%m %H:%M') : timeFormat(datum.value, '%H:%M'))"}}},
 "layer":[
  {"mark":{"type":"line","color":"#000080","strokeWidth":4,"strokeJoin":"round"},
   "encoding":{"y":{"field":"n","type":"quantitative","scale":{"domain":[10.785,12.231],"nice":false,"zero":false},"axis":{"title":null,"values":[10.8,11.0,11.2,11.4,11.6,11.8,12.0,12.2],"labelExpr":"format(datum.value,'.1f') + ' kV'","tickSize":5,"labelPadding":6,"minExtent":74,"maxExtent":74,"grid":true}}}},
  {"mark":{"type":"line","color":"#800000","strokeWidth":5,"strokeJoin":"round"},
   "encoding":{"y":{"field":"r","type":"quantitative","scale":{"domain":[10.785,12.231],"nice":false,"zero":false},"axis":{"title":null,"values":[10.8,11.0,11.2,11.4,11.6,11.8,12.0,12.2],"labelExpr":"format(datum.value,'.1f') + ' kV'","tickSize":5,"labelPadding":6,"minExtent":74,"maxExtent":74,"grid":true}}}},
  {"mark":{"type":"line","color":"#007800","strokeWidth":7,"strokeJoin":"round"},
   "encoding":{"y":{"field":"g","type":"quantitative","scale":{"domain":[10.785,12.231],"nice":false,"zero":false},"axis":{"title":null,"values":[10.8,11.0,11.2,11.4,11.6,11.8,12.0,12.2],"labelExpr":"format(datum.value,'.1f') + ' kV'","tickSize":5,"labelPadding":6,"minExtent":74,"maxExtent":74,"grid":true}}}}
 ]
}
]
}
